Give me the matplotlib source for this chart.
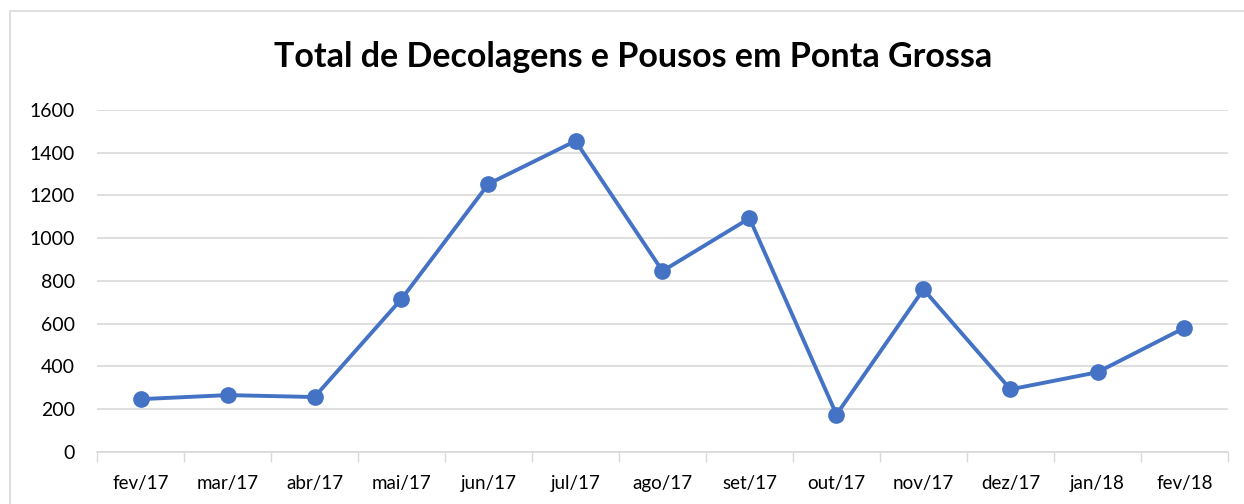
import matplotlib
matplotlib.use('Agg')
from matplotlib import pyplot as plt
from matplotlib.patches import Rectangle
from matplotlib.ticker import FixedLocator, NullFormatter

months = ['fev/17', 'mar/17', 'abr/17', 'mai/17', 'jun/17', 'jul/17', 'ago/17',
          'set/17', 'out/17', 'nov/17', 'dez/17', 'jan/18', 'fev/18']
total = [246, 265, 256, 715, 1254, 1455, 846, 1093, 174, 760, 292, 372, 580]
yticks = [0, 200, 400, 600, 800, 1000, 1200, 1400, 1600]

plt.rcParams['font.family'] = ['Lato', 'DejaVu Sans']

fig = plt.figure(figsize=(12.44, 5.04), dpi=100)
ax = fig.add_axes([97 / 1244, 1 - 451.7 / 504, 1131 / 1244, 341.7 / 504])

x = list(range(len(months)))
ax.plot(x, total, color='#4472C4', linewidth=2.8, marker='o', markersize=11,
        solid_capstyle='round', zorder=3)

ax.set_xlim(-0.5, len(months) - 0.5)
ax.set_ylim(0, 1600)
ax.set_yticks(yticks)
ax.set_xticks(x)
ax.set_xticklabels(months)
ax.xaxis.set_minor_locator(FixedLocator([i - 0.5 for i in range(len(months) + 1)]))
ax.xaxis.set_minor_formatter(NullFormatter())
ax.tick_params(axis='x', which='major', length=0, pad=17, labelsize=13.5, colors='black')
ax.tick_params(axis='x', which='minor', length=7, width=1, color='#D9D9D9')
ax.tick_params(axis='y', length=0, pad=16, labelsize=14)
ax.grid(True, axis='y', color='#D9D9D9', linewidth=1.2)
ax.set_axisbelow(True)
for s in ['top', 'right', 'left']:
    ax.spines[s].set_visible(False)
ax.spines['bottom'].set_color('#D9D9D9')
ax.spines['bottom'].set_linewidth(1.2)

fig.text(633 / 1244, 1 - 57 / 504, 'Total de Decolagens e Pousos em Ponta Grossa',
         ha='center', va='center', fontsize=24.5, fontweight='bold')

fig.patches.append(Rectangle((10, -20), 1260, 504 - 11 + 20, transform=None,
                             fill=False, edgecolor='#D9D9D9', linewidth=1.2))

plt.savefig('out.png', dpi=100)
plt.close('all')
